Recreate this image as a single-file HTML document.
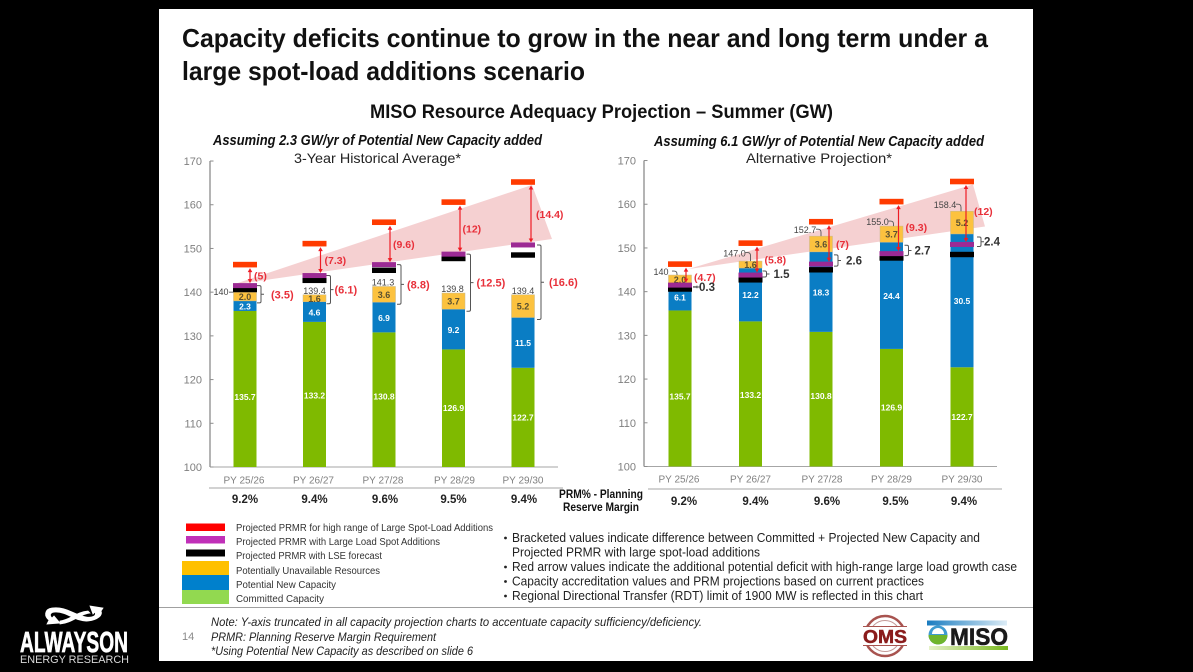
<!DOCTYPE html>
<html lang="en">
<head>
<meta charset="utf-8">
<title>MISO Resource Adequacy Projection</title>
<style>
html,body{margin:0;padding:0;background:#000;width:1193px;height:672px;overflow:hidden}
svg{display:block;font-family:"Liberation Sans",sans-serif}
</style>
</head>
<body>
<svg id="slide" xmlns="http://www.w3.org/2000/svg" width="1193" height="672" viewBox="0 0 1193 672">
  <rect x="159" y="9" width="874" height="652" fill="#fff"/>

  <text x="182" y="47" font-size="26" font-weight="700" fill="#111" textLength="806" lengthAdjust="spacingAndGlyphs">Capacity deficits continue to grow in the near and long term under a</text>
  <text x="182" y="80" font-size="26" font-weight="700" fill="#111" textLength="403" lengthAdjust="spacingAndGlyphs">large spot-load additions scenario</text>
  <text x="370" y="118" font-size="19" font-weight="700" fill="#111" textLength="463" lengthAdjust="spacingAndGlyphs">MISO Resource Adequacy Projection – Summer (GW)</text>

  <text x="213" y="145" font-size="14.5" font-weight="700" font-style="italic" fill="#111" textLength="329" lengthAdjust="spacingAndGlyphs">Assuming 2.3 GW/yr of Potential New Capacity added</text>
  <text x="294" y="163" font-size="14" fill="#222" textLength="167" lengthAdjust="spacingAndGlyphs">3-Year Historical Average*</text>
  <text x="654" y="146" font-size="14.5" font-weight="700" font-style="italic" fill="#111" textLength="330" lengthAdjust="spacingAndGlyphs">Assuming 6.1 GW/yr of Potential New Capacity added</text>
  <text x="746" y="163" font-size="14" fill="#222" textLength="146" lengthAdjust="spacingAndGlyphs">Alternative Projection*</text>

  <g id="left-chart"></g>
  <g id="right-chart"></g>

  <text x="601" y="498" font-size="11.5" font-weight="700" fill="#111" text-anchor="middle" textLength="84" lengthAdjust="spacingAndGlyphs">PRM% - Planning</text>
  <text x="601" y="511" font-size="11.5" font-weight="700" fill="#111" text-anchor="middle" textLength="76" lengthAdjust="spacingAndGlyphs">Reserve Margin</text>

  <g font-size="10" fill="#333">
    <g>
      <rect x="186" y="523.5" width="39" height="7.5" fill="#f00"/>
      <text x="236" y="531" textLength="257" lengthAdjust="spacingAndGlyphs">Projected PRMR for high range of Large Spot-Load Additions</text>
    </g>
    <g>
      <rect x="186" y="536" width="39" height="7.5" fill="#c030b8"/>
      <text x="236" y="545" textLength="204" lengthAdjust="spacingAndGlyphs">Projected PRMR with Large Load Spot Additions</text>
    </g>
    <g>
      <rect x="186" y="549.5" width="39" height="7" fill="#000"/>
      <text x="236" y="559" textLength="146" lengthAdjust="spacingAndGlyphs">Projected PRMR with LSE forecast</text>
    </g>
    <g>
      <rect x="182" y="561" width="47" height="14" fill="#ffc000"/>
      <text x="236" y="574" textLength="144" lengthAdjust="spacingAndGlyphs">Potentially Unavailable Resources</text>
    </g>
    <g>
      <rect x="182" y="575" width="47" height="15" fill="#0080cc"/>
      <text x="236" y="588" textLength="100" lengthAdjust="spacingAndGlyphs">Potential New Capacity</text>
    </g>
    <g>
      <rect x="182" y="590" width="47" height="14" fill="#92d950"/>
      <text x="236" y="602" textLength="88" lengthAdjust="spacingAndGlyphs">Committed Capacity</text>
    </g>
  </g>

  <g font-size="12.5" fill="#222">
    <circle cx="505.5" cy="538" r="1.4" fill="#222"/>
    <text x="512" y="542" textLength="468" lengthAdjust="spacingAndGlyphs">Bracketed values indicate difference between Committed + Projected New Capacity and</text>
    <text x="512" y="556.5" textLength="248" lengthAdjust="spacingAndGlyphs">Projected PRMR with large spot-load additions</text>
    <circle cx="505.5" cy="567" r="1.4" fill="#222"/>
    <text x="512" y="571" textLength="505" lengthAdjust="spacingAndGlyphs">Red arrow values indicate the additional potential deficit with high-range large load growth case</text>
    <circle cx="505.5" cy="581.5" r="1.4" fill="#222"/>
    <text x="512" y="585.5" textLength="412" lengthAdjust="spacingAndGlyphs">Capacity accreditation values and PRM projections based on current practices</text>
    <circle cx="505.5" cy="596" r="1.4" fill="#222"/>
    <text x="512" y="600" textLength="411" lengthAdjust="spacingAndGlyphs">Regional Directional Transfer (RDT) limit of 1900 MW is reflected in this chart</text>
  </g>

  <line x1="159" y1="607.5" x2="1033" y2="607.5" stroke="#a0a0a0" stroke-width="1"/>
  <text x="182" y="640" font-size="11" fill="#8a8a8a">14</text>
  <g font-size="12" font-style="italic" fill="#222">
    <text x="211" y="626" textLength="491" lengthAdjust="spacingAndGlyphs">Note: Y-axis truncated in all capacity projection charts to accentuate capacity sufficiency/deficiency.</text>
    <text x="211" y="641" textLength="225" lengthAdjust="spacingAndGlyphs">PRMR: Planning Reserve Margin Requirement</text>
    <text x="211" y="655" textLength="262" lengthAdjust="spacingAndGlyphs">*Using Potential New Capacity as described on slide 6</text>
  </g>

  <g>
    <circle cx="885" cy="636" r="20" fill="#fff" stroke="#a8534f" stroke-width="2.5"/>
    <circle cx="885" cy="636" r="15.5" fill="none" stroke="#c49a98" stroke-width="1"/>
    <rect x="862" y="627" width="46" height="18" fill="#fff"/>
    <line x1="863" y1="626.5" x2="907" y2="626.5" stroke="#a8534f"/>
    <line x1="863" y1="645.5" x2="907" y2="645.5" stroke="#a8534f"/>
    <text x="885" y="643" font-size="18" font-weight="700" fill="#8a1c1c" stroke="#8a1c1c" stroke-width="0.5" text-anchor="middle" textLength="44" lengthAdjust="spacingAndGlyphs">OMS</text>
  </g>
  <g>
    <defs>
      <linearGradient id="miso-blue" x1="0" x2="1" y1="0" y2="0"><stop offset="0" stop-color="#1a7cc0"/><stop offset="1" stop-color="#dcecf6"/></linearGradient>
      <linearGradient id="miso-green" x1="0" x2="1" y1="0" y2="0"><stop offset="0" stop-color="#e6f2c8"/><stop offset="1" stop-color="#79b91e"/></linearGradient>
    </defs>
    <rect x="927" y="620.5" width="80" height="5" fill="url(#miso-blue)"/>
    <rect x="929" y="646" width="79" height="4" fill="url(#miso-green)"/>
    <circle cx="938" cy="635" r="9.5" fill="#3f9bd0"/>
    <path d="M932 634a6 6 0 0 1 12 0z" fill="#fff"/>
    <path d="M928.5 635h19a9.5 9.5 0 0 1-19 0z" fill="#6fb52c"/>
    <text x="950" y="645" font-size="24" font-weight="700" fill="#1a1a1a" stroke="#1a1a1a" stroke-width="0.6" textLength="58" lengthAdjust="spacingAndGlyphs">MISO</text>
  </g>

  <g fill="#fff">
    <path stroke="#fff" stroke-width="0.8" d="M52 608 C44 609 44 617 49 620 L47 624 L60 623 L54 616 L52 618 C49 615 50 612 56 612 C68 612 76 622 88 621 C98 620 103 615 101 611 L103 608 L90 606 L93 614 L95 612 C97 616 92 618 86 617 C74 615 66 606 52 608 Z"/>
    <path stroke="#fff" stroke-width="0.8" d="M60 621 C70 620 76 612 88 611 L90 613 C80 614 72 623 60 624 Z"/>
    <text x="20" y="652" font-size="29" font-weight="700" stroke="#fff" stroke-width="0.7" textLength="108" lengthAdjust="spacingAndGlyphs">ALWAYSON</text>
    <text x="20" y="663" font-size="11" fill="#d8d8d8" textLength="109" lengthAdjust="spacingAndGlyphs">ENERGY RESEARCH</text>
  </g>
</svg>

<script>
// ---- chart data (GW) ----
const categories = ['PY 25/26', 'PY 26/27', 'PY 27/28', 'PY 28/29', 'PY 29/30'];
const yTicks = [100, 110, 120, 130, 140, 150, 160, 170];
const prmPercent = ['9.2%', '9.4%', '9.6%', '9.5%', '9.4%'];
const committed = [135.7, 133.2, 130.8, 126.9, 122.7];
const newCapacityLeft = [2.3, 4.6, 6.9, 9.2, 11.5];
const newCapacityRight = [6.1, 12.2, 18.3, 24.4, 30.5];
const unavailable = [2.0, 1.6, 3.6, 3.7, 5.2];
const lseForecast = [140.6, 142.7, 145.0, 147.7, 148.5];
const largeLoad = [141.5, 143.8, 146.3, 148.7, 150.8];
const highRange = [146.3, 151.1, 156.0, 160.6, 165.2];
const totalsLeft = ['140', '139.4', '141.3', '139.8', '139.4'];
const totalsRight = ['140', '147.0', '152.7', '155.0', '158.4'];
const arrowValuesLeft = ['(5)', '(7.3)', '(9.6)', '(12)', '(14.4)'];
const arrowValuesRight = ['(4.7)', '(5.8)', '(7)', '(9.3)', '(12)'];
const bracketValuesLeft = ['(3.5)', '(6.1)', '(8.8)', '(12.5)', '(16.6)'];
const bracketValuesRight = ['0.3', '1.5', '2.6', '2.7', '2.4'];

const SVGNS = 'http://www.w3.org/2000/svg';

function mk(parent, tag, attrs, name, text) {
  const el = document.createElementNS(SVGNS, tag);
  for (const k in attrs) el.setAttribute(k, attrs[k]);
  
  
  if (text !== undefined) el.textContent = text;
  parent.appendChild(el);
  return el;
}

function drawPanel(cfg) {
  const root = document.getElementById(cfg.id);
  const y = v => cfg.y100 - (v - 100) * cfg.unit;
  const x = i => cfg.x0 + i * cfg.step;
  const n = categories.length;
  const last = n - 1;
  const barW = 23;

  // shaded deficit band
  const pts = [
    [x(0) + cfg.bandStartDx, y(cfg.bandStartFromHigh ? highRange[0] : largeLoad[0]) + cfg.bandStartDy],
    [x(last) + cfg.bandTopDx, y(highRange[last]) + 3],
    [x(last) + cfg.bandLowDx, y(largeLoad[last]) + cfg.bandLowDy]
  ];
  mk(root, 'polygon', {points: pts.map(p => p.join(',')).join(' '), fill: '#f5d0d1'}, 'deficit-band');

  // axes
  mk(root, 'line', {x1: cfg.axisX, y1: y(170), x2: cfg.axisX, y2: y(100), stroke: '#8c8c8c', 'stroke-width': 1.3}, 'y-axis');
  mk(root, 'line', {x1: cfg.axisX, y1: y(100), x2: cfg.axisEnd, y2: y(100), stroke: '#a6a6a6', 'stroke-width': 1}, 'x-axis');
  yTicks.forEach(t => {
    mk(root, 'line', {x1: cfg.axisX, y1: y(t), x2: cfg.axisX + 3.5, y2: y(t), stroke: '#8c8c8c'}, 'y-tick-' + t);
    mk(root, 'text', {x: cfg.axisX - 8, y: y(t) + 4, 'font-size': 11, fill: '#7f7f7f', 'text-anchor': 'end'}, 'y-tick-label-' + t, t);
  });
  mk(root, 'line', {x1: cfg.ruleX1, y1: cfg.ruleY, x2: cfg.ruleX2, y2: cfg.ruleY, stroke: '#a6a6a6'}, 'prm-rule');

  categories.forEach((cat, i) => {
    const g = mk(root, 'g', {}, 'bar-group-' + cat.replace(/[ \/]/g, '-').toLowerCase());
    const c = x(i);
    const l = c - barW / 2;
    const v0 = committed[i];
    const v1 = v0 + cfg.newCapacity[i];
    const v2 = v1 + unavailable[i];

    mk(g, 'rect', {x: l, y: y(v0), width: barW, height: y(100) - y(v0), fill: '#7fba00'}, 'committed-bar');
    mk(g, 'rect', {x: l, y: y(v1), width: barW, height: y(v0) - y(v1), fill: '#0a7dc4'}, 'new-capacity-bar');
    mk(g, 'rect', {x: l, y: y(v2), width: barW, height: y(v1) - y(v2), fill: '#fcc23f', stroke: '#c8b88c', 'stroke-width': 0.5}, 'unavailable-bar');

    mk(g, 'text', {x: c, y: (y(100) + y(v0)) / 2 + 3 + cfg.greenDy[i], 'font-size': 8.5, 'font-weight': 700, fill: '#fff', 'text-anchor': 'middle'}, 'committed-value', v0.toFixed(1));
    mk(g, 'text', {x: c, y: (y(v0) + y(v1)) / 2 + 3.5, 'font-size': 8.5, 'font-weight': 700, fill: '#fff', 'text-anchor': 'middle'}, 'new-capacity-value', cfg.newCapacity[i].toFixed(1));
    mk(g, 'text', {x: c, y: (y(v1) + y(v2)) / 2 + 3.5, 'font-size': 9, 'font-weight': 700, fill: '#5a5030', 'text-anchor': 'middle'}, 'unavailable-value', unavailable[i].toFixed(1));

    mk(g, 'rect', {x: c - 12, y: y(lseForecast[i]) - 2.7, width: 24, height: 5.4, fill: '#000'}, 'lse-forecast-mark');
    mk(g, 'rect', {x: c - 12, y: y(largeLoad[i]) - 2.5, width: 24, height: 5, fill: '#9c2a94'}, 'large-load-mark');
    mk(g, 'rect', {x: c - 12, y: y(highRange[i]) - 2.8, width: 24, height: 5.6, fill: '#ff3b00'}, 'high-range-mark');

    // red arrow between large-load and high-range marks
    const ax = c + cfg.arrowDx[i];
    const aTop = y(highRange[i]) + 3.5;
    const aBot = y(largeLoad[i]) + cfg.arrowBotDy;
    mk(g, 'line', {x1: ax, y1: aTop + 2, x2: ax, y2: aBot - 2, stroke: '#ee1c25', 'stroke-width': 1.2}, 'deficit-arrow-shaft');
    mk(g, 'polygon', {points: `${ax},${aTop} ${ax - 2.3},${aTop + 4} ${ax + 2.3},${aTop + 4}`, fill: '#ee1c25'}, 'deficit-arrow-head-up');
    mk(g, 'polygon', {points: `${ax},${aBot} ${ax - 2.3},${aBot - 4} ${ax + 2.3},${aBot - 4}`, fill: '#ee1c25'}, 'deficit-arrow-head-down');
    mk(g, 'text', {x: c + cfg.arrowLabelDx[i], y: (aTop + aBot) / 2 + 4 + cfg.arrowLabelDy[i], 'font-size': 10.5, 'font-weight': 700, fill: '#e8303a'}, 'deficit-arrow-value', cfg.arrowValues[i]);

    // brackets
    const bx = c + cfg.bracketDx[i];
    const bTop = cfg.smallBracket ? y(v1) + 3 : y(largeLoad[i]);
    const bBot = cfg.smallBracket ? y(largeLoad[i]) + 2 : y(v1) + 2;
    const bMid = (bTop + bBot) / 2;
    mk(g, 'path', {d: `M${bx} ${bTop}h2.5q1.5 0 1.5 1.5V${bBot - 1.5}q0 1.5-1.5 1.5H${bx}M${bx + 4} ${bMid}h3`, fill: 'none', stroke: '#555', 'stroke-width': 1}, 'difference-bracket');
    mk(g, 'text', {x: c + cfg.bracketLabelDx[i], y: bMid + 4, 'font-size': cfg.smallBracket ? 11.5 : 11, 'font-weight': 700, fill: cfg.smallBracket ? '#333' : '#e8303a'}, 'difference-value', cfg.bracketValues[i]);

    // stack total
    const tx = c + cfg.totalDx[i];
    const ty = y(v2) + cfg.totalDy[i];
    mk(g, 'text', {x: tx, y: ty + 3, 'font-size': 9, fill: '#444', 'text-anchor': 'middle'}, 'stack-total', cfg.totals[i]);
    if (cfg.hook) {
      mk(g, 'path', {d: `M${tx + 11} ${ty - 1}h2q3 0 3 3V${y(v2)}`, fill: 'none', stroke: '#555', 'stroke-width': 0.9}, 'stack-total-leader');
    } else if (i === 0) {
      mk(g, 'line', {x1: tx + 8, y1: ty, x2: l, y2: ty, stroke: '#555', 'stroke-width': 0.9}, 'stack-total-leader');
    }

    // category + PRM
    mk(root, 'text', {x: c + cfg.catDx[i], y: cfg.catY, 'font-size': 10, fill: '#808080', 'text-anchor': 'middle'}, 'x-tick-label', cat);
    mk(root, 'text', {x: c + cfg.prmDx[i], y: cfg.prmY, 'font-size': 11.5, 'font-weight': 700, fill: '#222', 'text-anchor': 'middle'}, 'prm-value', prmPercent[i]);
  });
}

drawPanel({
  id: 'left-chart', x0: 245, step: 69.5, y100: 467, unit: 4.371, axisX: 210, axisEnd: 558,
  ruleX1: 209, ruleX2: 563, ruleY: 488, catY: 483.5, prmY: 503,
  newCapacity: newCapacityLeft, totals: totalsLeft,
  arrowValues: arrowValuesLeft, bracketValues: bracketValuesLeft,
  smallBracket: false, hook: false,
  bandStartFromHigh: false, bandStartDx: -12, bandStartDy: -1, bandTopDx: 9, bandLowDx: 29, bandLowDy: -6,
  arrowDx: [5, 6, 6, 6.5, 8], arrowBotDy: -2.5,
  arrowLabelDx: [9, 10, 9, 9, 13], arrowLabelDy: [0, 0, 0, 0, 0],
  bracketDx: [12, 12, 13, 13, 14], bracketLabelDx: [26, 20, 23, 23, 26],
  totalDx: [-24, 0, -1, -1, 0], totalDy: [0, -4, -4, -4, -4],
  greenDy: [8, 1, -3, 0, 0], catDx: [-1, -1, -1, 1, 0], prmDx: [0, 0, 1, 0, 1]
});

drawPanel({
  id: 'right-chart', x0: 680, step: 70.5, y100: 466.5, unit: 4.371, axisX: 644, axisEnd: 997,
  ruleX1: 648, ruleX2: 1002, ruleY: 489, catY: 482.5, prmY: 505,
  newCapacity: newCapacityRight, totals: totalsRight,
  arrowValues: arrowValuesRight, bracketValues: bracketValuesRight,
  smallBracket: true, hook: true,
  bandStartFromHigh: true, bandStartDx: 8, bandStartDy: 5, bandTopDx: 11, bandLowDx: 23, bandLowDy: -18,
  arrowDx: [6, 6.5, 8, 7, 4], arrowBotDy: -2.5,
  arrowLabelDx: [14, 14, 15, 14, 12], arrowLabelDy: [2, 0, 0.6, -1, -2.5],
  bracketDx: [13, 12, 13, 13, 15], bracketLabelDx: [19, 23, 25, 23, 22],
  totalDx: [-19, -16, -16, -14, -17], totalDy: [-3, -7.5, -6, -4, -6],
  greenDy: [8, 1, -3, 0, 0], catDx: [-1, 0, 1, 0, 0], prmDx: [4, 5, 6, 4, 2]
});
</script>
</body>
</html>
